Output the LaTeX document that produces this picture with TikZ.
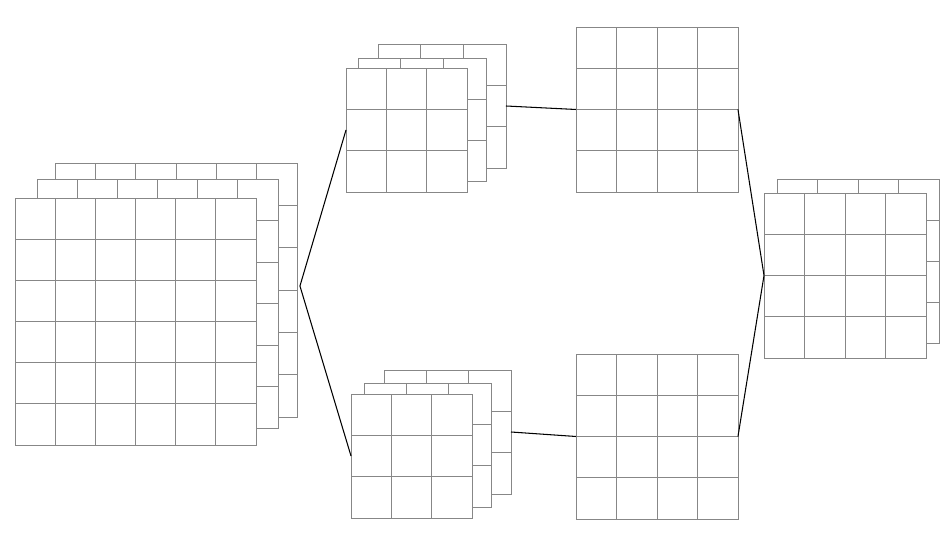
\documentclass[tikz,border=0pt]{standalone}
\definecolor{gridGray}{RGB}{135, 135, 135}
\usepackage{tikz}
\usetikzlibrary{calc, positioning}

\begin{document}
\begin{tikzpicture}[
    x=0.02cm, y=-0.02cm,
    fmap/.style 2 args={
      rectangle, draw=gridGray, fill=white, line width=0.5pt,
      inner sep=0pt, outer sep=0pt, anchor=north west,
      path picture={
        \foreach \k in {1,...,#1}
          \draw[gridGray, line width=0.5pt]
            ($(path picture bounding box.north west)!\k/#1!(path picture bounding box.north east)$) --
            ($(path picture bounding box.south west)!\k/#1!(path picture bounding box.south east)$);
        \foreach \k in {1,...,#2}
          \draw[gridGray, line width=0.5pt]
            ($(path picture bounding box.north west)!\k/#2!(path picture bounding box.south west)$) --
            ($(path picture bounding box.north east)!\k/#2!(path picture bounding box.south east)$);
      }
    },
    link/.style={black, line width=0.6pt},
  ]
    \useasboundingbox (0,0) rectangle (949,555);

    % Input stack
    \node[fmap={6}{6}, minimum width=4.84cm, minimum height=5.08cm] (big3) at (55,163) {};
    \node[fmap={6}{6}, minimum width=4.82cm, minimum height=4.98cm] (big2) at (37,179) {};
    \node[fmap={6}{6}, minimum width=4.82cm, minimum height=4.94cm] (big1) at (15,198) {};

    % Upper branch
    \node[fmap={3}{3}, minimum width=2.56cm, minimum height=2.48cm] (up3) at (378,44) {};
    \node[fmap={3}{3}, minimum width=2.56cm, minimum height=2.46cm] (up2) at (358,58) {};
    \node[fmap={3}{3}, minimum width=2.42cm, minimum height=2.48cm] (up1) at (346,68) {};
    \node[fmap={4}{4}, minimum width=3.24cm, minimum height=3.30cm] (upout) at (576,27) {};

    % Lower branch
    \node[fmap={3}{3}, minimum width=2.54cm, minimum height=2.48cm] (lo3) at (384,370) {};
    \node[fmap={3}{3}, minimum width=2.54cm, minimum height=2.48cm] (lo2) at (364,383) {};
    \node[fmap={3}{3}, minimum width=2.42cm, minimum height=2.48cm] (lo1) at (351,394) {};
    \node[fmap={4}{4}, minimum width=3.24cm, minimum height=3.30cm] (loout) at (576,354) {};

    % Output stack
    \node[fmap={4}{4}, minimum width=3.24cm, minimum height=3.28cm] (out2) at (777,179) {};
    \node[fmap={4}{4}, minimum width=3.24cm, minimum height=3.30cm] (out1) at (764,193) {};

    % Links
    \coordinate[above right=0.08cm and 0.06cm of big3.east] (split);
    \draw[link] (split) -- (up1.west);
    \draw[link] (split) -- (lo1.west);
    \draw[link] (up3.east) -- (upout.west);
    \draw[link] (lo3.east) -- (loout.west);
    \draw[link] (upout.east) -- (out1.west);
    \draw[link] (loout.east) -- (out1.west);
  \end{tikzpicture}
\end{document}
